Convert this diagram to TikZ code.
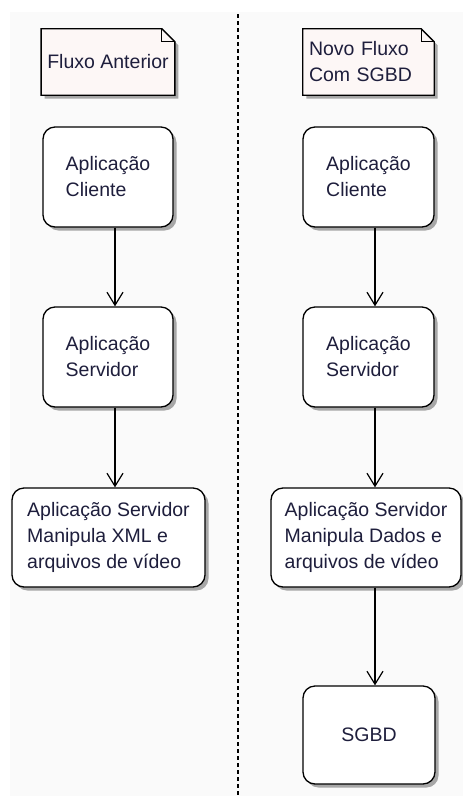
\documentclass[tikz,border=0pt]{standalone}
\usepackage{fontspec}
\setmainfont{Liberation Sans}
\usetikzlibrary{arrows.meta,shadows,backgrounds}
\definecolor{bg}{HTML}{FAFAFA}
\definecolor{notefill}{HTML}{FDF7F6}
\definecolor{txt}{HTML}{1E1E3C}
\begin{document}
\begin{tikzpicture}[x=1pt,y=-1pt,
  every node/.style={font=\fontsize{19.5}{26}\selectfont, text=txt},
  box/.style={draw, line width=1.3pt, rounded corners=12pt, fill=white, inner sep=0pt, align=left,
     drop shadow={shadow xshift=3.5pt, shadow yshift=-3.5pt, fill=black!38, opacity=0.9}},
  multi/.style={execute at begin node={\rule{0pt}{25pt}}},
  notebox/.style={inner sep=6pt, align=left, minimum height=66pt},
  noteline/.style={draw, line width=1.3pt, fill=notefill, line join=miter},
  arr/.style={line width=1.2pt, -{Straight Barb[length=13pt,width=16pt,line width=1.2pt]}},
  sep/.style={line width=1.3pt, dash pattern=on 4pt off 3pt}
]
\useasboundingbox (0,0) rectangle (463,796);

% notes
\node[notebox, minimum width=130pt] (n1) at (108,62) {Fluxo Anterior};
\node[notebox, text width=119pt] (n2) at (368.5,62) {Novo Fluxo\\Com SGBD};

\begin{scope}[on background layer]
  \fill[white] (0,0) rectangle (463,796);
  \fill[bg] (10,12) rectangle (463,796);
  \coordinate (top) at (238,14);
  \coordinate (bot) at (238,796);
  \draw[sep] (top) -- (bot);
  \foreach \n in {n1,n2} {
    \fill[black!38, opacity=0.9] ([xshift=3.5pt,yshift=-3.5pt]\n.north west) -- ([xshift=-9.5pt,yshift=-3.5pt]\n.north east)
       -- ([xshift=3.5pt,yshift=-16.5pt]\n.north east) -- ([xshift=3.5pt,yshift=-3.5pt]\n.south east)
       -- ([xshift=3.5pt,yshift=-3.5pt]\n.south west) -- cycle;
    \draw[noteline] (\n.north west) -- ([xshift=-13pt]\n.north east) -- ([yshift=-13pt]\n.north east)
       -- (\n.south east) -- (\n.south west) -- cycle;
    \draw[line width=1.1pt] ([xshift=-13pt]\n.north east) -- ([xshift=-13pt,yshift=-13pt]\n.north east) -- ([yshift=-13pt]\n.north east);
  }
\end{scope}

% left flow
\node[box, multi, minimum width=130pt, minimum height=100pt] (l1) at (108,177) {Aplicação\\Cliente};
\node[box, multi, minimum width=130pt, minimum height=100pt] (l2) at (108,357) {Aplicação\\Servidor};
\node[box, multi, minimum width=193pt, minimum height=99pt] (l3) at (108.5,537.5) {Aplicação Servidor\\Manipula XML e\\arquivos de vídeo};

% right flow
\node[box, multi, minimum width=131pt, minimum height=100pt] (r1) at (368.5,177) {Aplicação\\Cliente};
\node[box, multi, minimum width=131pt, minimum height=100pt] (r2) at (368.5,357) {Aplicação\\Servidor};
\node[box, multi, minimum width=190pt, minimum height=99pt] (r3) at (366,537.5) {Aplicação Servidor\\Manipula Dados e\\arquivos de vídeo};
\node[box, minimum width=132pt, minimum height=98pt, align=center] (r4) at (369,735) {SGBD};

% arrows
\draw[arr] ([xshift=7pt]l1.south) -- ([xshift=7pt]l1.south |- l2.north);
\draw[arr] ([xshift=7pt]l2.south) -- ([xshift=7pt]l2.south |- l3.north);
\draw[arr] ([xshift=6.5pt]r1.south) -- ([xshift=6.5pt]r1.south |- r2.north);
\draw[arr] ([xshift=6.5pt]r2.south) -- ([xshift=6.5pt]r2.south |- r3.north);
\draw[arr] ([xshift=9pt]r3.south) -- ([xshift=9pt]r3.south |- r4.north);
\end{tikzpicture}
\end{document}
